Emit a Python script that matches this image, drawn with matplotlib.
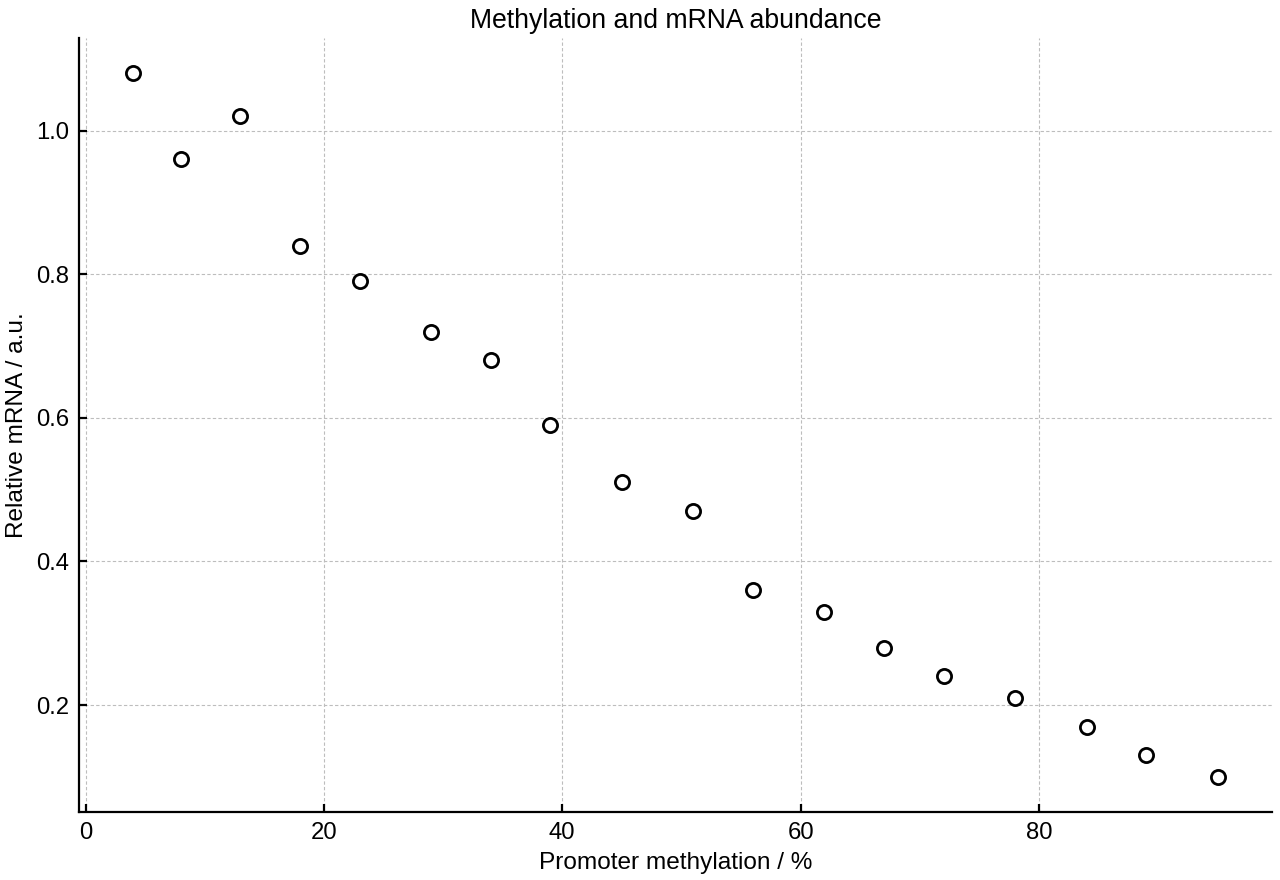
import matplotlib
matplotlib.use("Agg")
import matplotlib.pyplot as plt

# Promoter methylation (%) vs relative mRNA
methylation = [4, 8, 13, 18, 23, 29, 34, 39, 45, 51, 56, 62, 67, 72, 78, 84, 89, 95]
mrna = [1.08, 0.96, 1.02, 0.84, 0.79, 0.72, 0.68, 0.59, 0.51, 0.47,
        0.36, 0.33, 0.28, 0.24, 0.21, 0.17, 0.13, 0.10]

plt.rcParams['font.family'] = ['Liberation Sans', 'DejaVu Sans']
plt.rcParams['font.size'] = 8

fig = plt.figure(figsize=(6.4, 4.4), dpi=200)
ax = fig.add_axes([0.0617, 0.0773, 0.932, 0.8795])

ax.scatter(methylation, mrna, s=26, facecolors='white', edgecolors='black',
           linewidths=1.0, zorder=3)

ax.set_xticks([0, 20, 40, 60, 80])
ax.set_yticks([0.2, 0.4, 0.6, 0.8, 1.0])
ax.grid(True, linestyle='--', linewidth=0.4, color='#bdbdbd', dashes=(3, 2))
ax.set_axisbelow(True)

for side in ['top', 'right']:
    ax.spines[side].set_visible(False)
for side in ['left', 'bottom']:
    ax.spines[side].set_linewidth(0.8)
ax.tick_params(direction='in', length=3, width=0.8, labelsize=8.6)

ax.set_xlabel('Promoter methylation / %', fontsize=8.8, labelpad=3)
ax.set_ylabel('Relative mRNA / a.u.', fontsize=8.8, labelpad=3)
ax.set_title('Methylation and mRNA abundance', fontsize=9.6, pad=3.5)

fig.savefig('out.png', dpi=200)
